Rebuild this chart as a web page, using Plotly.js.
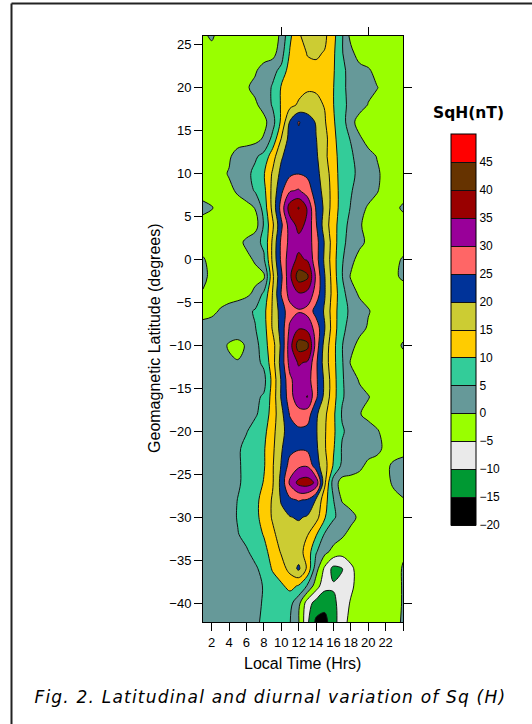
<!DOCTYPE html>
<html>
<head>
<meta charset="utf-8">
<script src="https://cdn.plot.ly/plotly-3.0.1.min.js"></script>
<style>
html,body{margin:0;padding:0;background:#fff;}
#chart{width:532px;height:724px;}
g.annotation[data-index="2"] text{letter-spacing:1.2px;}
</style>
</head>
<body>
<div id="chart"></div>
<script>
// Local time (hours) columns
const hours = [1,2,3,4,5,6,7,8,9,10,11,12,13,14,15,16,17,18,19,20,21,22,23,24];
// Geomagnetic latitude rows (degrees), top to bottom
const latitudes = [26,24,22,20,18,16,14,12,10,8,6,4,2,0,-2,-4,-6,-8,-10,-12,-14,-16,-18,-20,-22,-24,-26,-28,-30,-32,-34,-36,-38,-40,-42.2];
// SqH (nT), one row per latitude, one value per hour
const sqH = [
  [-1,0.8,-2,-2.5,-3,-3,-3,-3,-3,1.2,9,14.5,16.5,17,16,11.5,5.5,-1.5,-2.5,-3,-3,-3,-3,-3],
  [-2,-2,-2.5,-3,-3,-3,-3,-2.5,-2,3,10.5,13,15.2,15.6,14.7,10.8,5.3,1.5,-2.5,-3,-3,-3,-3,-3],
  [-2.5,-2.5,-2.5,-2.5,-2,-1.5,-0.6,2,3.8,6,12.7,13.5,14,14,13.5,10.4,6.4,2.9,1.8,0.6,-1.5,-2.5,-2.5,-2.5],
  [-2,-2,-2,-1.8,-1.2,-0.5,1.2,3,5.4,10.5,12.5,13.5,14.5,14.5,13,10.1,6.5,2.8,2,1.2,0.2,-1.5,-2,-2],
  [-2,-2,-2,-2,-1.8,-1.5,-0.8,1.9,5.5,10.5,13.5,15.6,16.5,16,14.75,10.1,6,4,2.5,-0.2,-1.5,-2,-2,-2],
  [-2,-2,-2.5,-2.5,-2.5,-2.5,-2.5,-1.5,3,11,20.5,25.3,23,19.5,15.5,10.5,7,2,-2.5,-2.5,-2.5,-2.5,-2.5,-2.5],
  [-2,-2,-2,-2,-2,-2,-1.5,0.6,6.5,15.2,22,24,23.5,20.2,16.6,11.5,6.5,4.8,1,-2,-2.5,-2.5,-2.5,-2.5],
  [-1.5,-1.5,-1.2,-0.6,1.8,3,4.3,6.5,12.8,19.3,23,24,23.5,20.8,16.3,11.5,8,5.6,3.5,1.8,-0.2,-1.5,-1.5,-1.5],
  [-1.5,-1.3,-1,0.3,1.8,3.8,6.2,9.6,15.6,21.5,24,24.8,24,21.5,17.5,12.5,7.5,6.2,3.8,2.3,0.8,-1.5,-1.5,-1.5],
  [-1.5,-1.5,-1.2,-0.8,0.5,2.5,5.5,8.5,16.5,24,29.5,30.5,27.5,22.5,18.3,12.8,7.7,5.4,3,1.8,0.3,-1.5,-1.5,-1.5],
  [1,0.2,-1.2,-1.5,-1.5,-1.5,0.2,7,16.5,27,37.5,40.3,34.5,24.5,18.9,12.4,8,4.7,1.5,-0.5,-1.5,-1.2,-0.8,0.5],
  [-1.5,-1.5,-1.5,-1.5,-2,-2.5,-2.5,5.5,14,24,32.5,36.5,34,25.5,17.5,12,7,3.5,0.5,-1.5,-1.5,-1.5,-1.5,-1.5],
  [-1.5,-1.5,-1.5,-1.4,-1.2,0.8,3.5,6,15.8,26,31.5,33.5,33,27,19.5,12.5,6,3.5,1.3,-1,-1.5,-1.5,-1.5,-1.5],
  [0.3,-1,-1.5,-1.5,-1.5,-1,0.5,4.3,16,26,33,36,34.5,27,19,12,5.5,1.5,-1.8,-1.5,-1.5,-1.5,-0.8,0.3],
  [0.8,-0.8,-1.5,-1.5,-1.5,-1.5,-1.3,-1,14,24,34,42.5,41,29,20.2,12.5,5.2,-0.5,-1.5,-1.5,-1.5,-1.2,-0.5,0.5],
  [-0.3,-1,-1.5,-1.5,-1.5,-1,1,6,15.2,25.3,32,34.5,33.5,28,20.3,13,6.5,2.5,-0.8,-1.5,-1.5,-1.5,-1.5,-1.5],
  [-1.5,-0.8,0.3,1.2,2.2,3.8,5.5,8.5,15.5,22.5,28,29.5,28.5,23,19.5,12,7,4,2.3,0.3,-1.2,-1.5,-1.5,-1.5],
  [1.5,1.5,2,2.5,3,4,4.8,8,15.5,22,31,34.5,33.5,28,20.2,12.5,6,3.5,1.5,-0.5,-1.5,-1.5,-1.5,-1.2],
  [1.5,2,1.5,-0.5,-1.5,0.5,3,8,13,21,33,42.5,41.5,28,18,11.5,5.2,1.5,-1.5,-1.5,-1.5,-1.5,-1,0.3],
  [1.5,2,1.5,0.8,0.3,1.5,3.5,6,13,22,32,35.5,34.5,26,17.5,11.5,5.5,-0.5,-1.5,-1.5,-1.5,-1.5,-1.5,-1],
  [1.5,2,2.5,3,3.3,3.5,3.5,3.5,11.5,20.5,29,33,32.5,26,19,12,5.5,2.5,-0.5,-1.5,-1.5,-1.5,-1.5,-1.5],
  [1.5,2,2.5,3,3.5,4,4.2,5.5,12,20.5,28,33.5,35.2,26,18.5,12,5.5,3,1.5,0.2,-1.2,-1.5,-1.5,-1.5],
  [1.5,2,2.5,3,3.5,4,4.5,6.5,12.5,18.5,25.5,28,27.5,21,16,11,4.5,2,0.2,-1,-1.5,-1.5,-1.5,-1.5],
  [1.5,2,2.5,3,3.8,4.8,6.5,8.5,13.5,18.5,22.5,24,23.5,20.5,15.5,11,5.5,3.5,2.5,1.5,0.3,-1,-1.5,-1.5],
  [1.5,2,2.5,3.5,4.5,6,7.5,9.5,14,19.5,23.5,24.5,24,21,15.5,10.5,4.5,3.5,2.5,1.8,1,-0.8,-1.2,-1],
  [1.5,2,2.5,3.5,4.5,6,7.5,9.5,14.5,20.3,27,29,29.5,22,17,9.5,4,2.5,1,-1,-1.5,-0.5,0.5,1],
  [1.5,2,2.5,3.5,4.5,6,7.5,10.3,14.5,21.5,31,36.5,37.5,34,16,2.5,-2,-2,-2,-1.8,-1.5,-0.8,0.5,1.2],
  [1.5,2,2.5,3.5,5.1,6.5,8.5,12,15.5,20.5,24,25.3,24.5,19.5,12,5.2,-0.5,-2,-2,-2,-1.8,-1.5,-0.8,-0.2],
  [1.5,2,2.5,3.3,5.3,7,8.5,12,15.5,18.5,19.8,20.5,19.5,17,10.5,5.5,3.5,1.5,-1,-2,-2,-2,-1.5,-1.5],
  [1.5,2,2.5,3,4.8,6.3,8,10.3,14,17,18,18,15.3,10.5,4.5,2.5,0.8,-1.5,-2,-2,-2,-2,-2,-1.5],
  [1.5,2,2.5,3,3.5,4.5,6.5,8.5,12,15.5,17,17,13,5.5,1.5,-1.5,-3,-2.5,-2.5,-2.5,-2.5,-2.5,-2.5,-0.5],
  [1.5,2,2.5,3,3.2,3.5,4.3,6.5,10.5,13,16.5,21,14,2,-6,-11.5,-10.2,-6,-3,-3,-3,-3,-1.5,0.3],
  [1.5,2,2.5,3,3.2,3.5,4,5.2,7.5,9.2,11.5,9.5,4.5,-2.5,-8.5,-9.5,-9,-6,-3,-3,-3,-3,-1.5,0.3],
  [1.5,2,2.5,3,3.2,3.5,4.2,5.3,7,8,6.5,1.5,-7.5,-12,-13.5,-11,-8,-4.5,-2.5,-2.5,-2.5,-2.5,-1.5,0.3],
  [1.5,2,2.5,3,3.3,3.8,4.5,5.5,6.5,7,5.2,0.3,-9,-16,-16.5,-12,-7,-3.5,-2.5,-2.5,-2.5,-2.5,-1.2,0.5]
];
// Legend levels and their colours (bands of 5 nT from -20 to 50)
const levelColors = ['#000000','#009933','#EAEAEA','#99FF00','#669999','#33CC99','#FFCC00','#CCCC33','#003399','#FF6666','#990099','#990000','#663300','#FF0000'];
const colorbarTicks = [-20,-15,-10,-5,0,5,10,15,20,25,30,35,40,45];
const xTickVals = [2,4,6,8,10,12,14,16,18,20,22,24];
const xTickText = ['2','4','6','8','10','12','14','16','18','20','22',''];
const yTickVals = [-40,-35,-30,-25,-20,-15,-10,-5,0,5,10,15,20,25];
const topTickVals = [10,20];
const rightTickVals = [-40,-30,-20,-10,0,10,20];

// With zmin/zmax set, the colour scale spans -20..45 and values above 45 take the last stop.
const nInner = levelColors.length - 1;
const colorscale = [];
for (let k = 0; k < nInner; k++) {
  colorscale.push([k / nInner, levelColors[k]]);
  colorscale.push([(k + 0.98) / nInner, levelColors[k]]);
}
colorscale.push([1, levelColors[nInner]]);

const axFont = {family: 'Liberation Sans, Arial, sans-serif', size: 13, color: '#000'};

const data = [
  {
    type: 'contour',
    x: hours,
    y: latitudes.slice().reverse(),
    z: sqH.slice().reverse(),
    colorscale: colorscale,
    zmin: -20, zmax: 50, zauto: false,
    autocontour: false,
    contours: {start: -20, end: 45, size: 5, coloring: 'fill', showlines: true},
    line: {color: '#111', width: 1, smoothing: 1},
    hoverinfo: 'skip',
    colorbar: {
      thickness: 25, thicknessmode: 'pixels',
      len: 391, lenmode: 'pixels',
      x: 1.24, xanchor: 'left', xpad: 0,
      y: 0.8328, yanchor: 'top', ypad: 0,
      outlinecolor: '#000', outlinewidth: 1,
      tickmode: 'array', tickvals: colorbarTicks,
      ticks: '', tickfont: {family: 'Liberation Sans, Arial, sans-serif', size: 12, color: '#000'},
      title: {text: ''}
    }
  },
  {
    type: 'scatter', x: [], y: [], xaxis: 'x2', yaxis: 'y2',
    showlegend: false, hoverinfo: 'skip'
  }
];

const layout = {
  width: 532, height: 724,
  margin: {l: 203, r: 129, t: 36, b: 102, pad: 0},
  paper_bgcolor: '#fff', plot_bgcolor: '#fff',
  showlegend: false,
  xaxis: {
    range: [1, 24], tickmode: 'array', tickvals: xTickVals, ticktext: xTickText,
    ticks: 'outside', ticklen: 8, tickwidth: 1, tickcolor: '#000',
    showline: true, linecolor: '#000', linewidth: 1, mirror: true,
    showgrid: false, zeroline: false, tickfont: axFont
  },
  yaxis: {
    range: [-42.2, 26], tickmode: 'array', tickvals: yTickVals,
    ticks: 'outside', ticklen: 8, tickwidth: 1, tickcolor: '#000',
    showline: true, linecolor: '#000', linewidth: 1, mirror: true,
    showgrid: false, zeroline: false, tickfont: axFont
  },
  xaxis2: {
    overlaying: 'x', side: 'top', anchor: 'y2', range: [1, 24],
    tickmode: 'array', tickvals: topTickVals, ticks: 'outside', ticklen: 8,
    tickcolor: '#000', showticklabels: false, showgrid: false, zeroline: false, showline: false
  },
  yaxis2: {
    overlaying: 'y', side: 'right', anchor: 'x2', range: [-42.2, 26],
    tickmode: 'array', tickvals: rightTickVals, ticks: 'outside', ticklen: 8,
    tickcolor: '#000', showticklabels: false, showgrid: false, zeroline: false, showline: false
  },
  annotations: [
    {text: 'Geomagnetic Latitude (degrees)', xref: 'paper', yref: 'paper', x: -0.24, y: 0.483,
     textangle: -90, showarrow: false, xanchor: 'center', yanchor: 'middle',
     font: {family: 'Liberation Sans, Arial, sans-serif', size: 16, color: '#000'}},
    {text: 'Local Time (Hrs)', xref: 'paper', yref: 'paper', x: 0.495, y: -0.07,
     showarrow: false, xanchor: 'center', yanchor: 'middle',
     font: {family: 'Liberation Sans, Arial, sans-serif', size: 16, color: '#000'}},
    {text: 'Fig. 2. Latitudinal and diurnal variation of Sq (H)', xref: 'paper', yref: 'paper',
     x: 0.3375, y: -0.128, showarrow: false, xanchor: 'center', yanchor: 'middle',
     font: {family: 'DejaVu Sans, sans-serif', size: 17, color: '#000', style: 'italic'}},
    {text: 'SqH(nT)', xref: 'paper', yref: 'paper', x: 1.325, y: 0.8686,
     showarrow: false, xanchor: 'center', yanchor: 'middle',
     font: {family: 'DejaVu Sans, sans-serif', size: 15.5, color: '#000', weight: 'bold'}}
  ],
  shapes: [
    {type: 'line', xref: 'paper', yref: 'paper', x0: -0.9575, x1: -0.9575, y0: -0.2, y1: 1.0555,
     line: {color: '#222', width: 2}},
    {type: 'line', xref: 'paper', yref: 'paper', x0: -0.9575, x1: 1.7, y0: 1.0555, y1: 1.0555,
     line: {color: '#222', width: 2}}
  ]
};

Plotly.newPlot('chart', data, layout, {staticPlot: true, displayModeBar: false});
</script>
</body>
</html>
